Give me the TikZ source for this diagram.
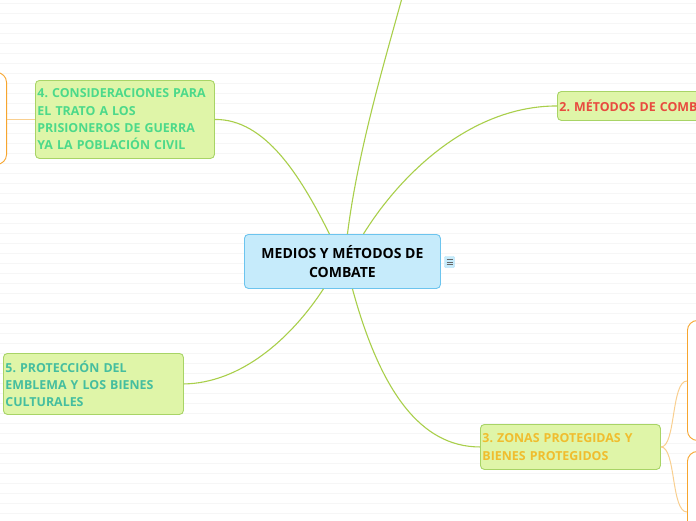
\documentclass[tikz,border=0pt]{standalone}
\usepackage{fontspec}
\setmainfont{Open Sans}
\frenchspacing
\definecolor{gfill}{HTML}{DFF5A8}
\definecolor{gborder}{HTML}{A8D466}
\definecolor{bfill}{HTML}{C6EBFB}
\definecolor{bborder}{HTML}{6CC4EE}
\definecolor{gline}{HTML}{A9CF4A}
\definecolor{oborder}{HTML}{F7A52E}
\definecolor{oline}{HTML}{F9CF8F}
\definecolor{tgreen}{HTML}{4CD98A}
\definecolor{tteal}{HTML}{45BE9F}
\definecolor{tyellow}{HTML}{F0BD2E}
\definecolor{tred}{HTML}{E84A3F}
\definecolor{stripe}{HTML}{F6F6F6}
\tikzset{
  topic/.style={draw=gborder, fill=gfill, line width=0.9pt, rounded corners=4pt,
    anchor=north west, inner xsep=2pt, inner ysep=0pt, align=left,
    font=\bfseries\fontsize{12.4}{17.3}\selectfont},
  central/.style={draw=bborder, fill=bfill, line width=0.9pt, rounded corners=4pt,
    anchor=north west, inner sep=0pt, align=center, text=black,
    minimum width=196pt, minimum height=54pt,
    font=\bfseries\fontsize{14}{19}\selectfont},
  obox/.style={draw=oborder, line width=0.9pt, rounded corners=10pt, fill=white},
  conn/.style={draw=gline, line width=1.1pt},
  oconn/.style={draw=oline, line width=1pt},
}
\begin{document}
\begin{tikzpicture}[x=1pt,y=-1pt]
\useasboundingbox (0,0) rectangle (696,520);
\clip (0,0) rectangle (696,520);
\fill[white] (0,0) rectangle (696,520);
\foreach \k in {0,...,51} {\draw[stripe, line width=1pt] (0,3.5+10*\k) -- (696,3.5+10*\k);}

% orange boxes (partly off the page)
\node[obox, minimum width=80pt, minimum height=92pt, anchor=north east] (oleft) at (7,72) {};
\node[obox, minimum width=60pt, minimum height=120pt, anchor=north west] (orightA) at (687,320) {};
\node[obox, minimum width=60pt, minimum height=120pt, anchor=north west] (orightB) at (687,451) {};

% central
\node[central] (c) at (244,234) {MEDIOS Y MÉTODOS DE\\COMBATE};

% topics
\node[topic, text=tgreen, text width=175pt, minimum height=78pt] (t4) at (35,80)
  {4. CONSIDERACIONES PARA\\EL TRATO A LOS\\PRISIONEROS DE GUERRA\\YA LA POBLACIÓN CIVIL};
\node[topic, text=tred, text width=200pt, minimum height=29pt] (t2) at (557,91)
  {2. MÉTODOS DE COMBATE};
\node[topic, text=tteal, text width=176pt, minimum height=61pt] (t5) at (3,353)
  {5. PROTECCIÓN DEL\\EMBLEMA Y LOS BIENES\\CULTURALES};
\node[topic, text=tyellow, text width=176pt, minimum height=45pt] (t3) at (480,424)
  {3. ZONAS PROTEGIDAS Y\\BIENES PROTEGIDOS};

% notes icon
\node[draw=bfill!70!bborder, fill=bfill, rounded corners=1pt, minimum width=10pt,
  minimum height=11pt, inner sep=0pt] (icon) at (449.5,262) {};
\foreach \dy in {-2.2,0,2.2} {\draw[gray!80!black, line width=0.7pt]
  ([xshift=-3pt,yshift=\dy pt]icon.center) -- ([xshift=3pt,yshift=\dy pt]icon.center);}

% connectors
\coordinate (topend) at (402,-2);
\draw[conn] ([xshift=5pt]c.north) .. controls (358,150) and (385,60) .. (topend);
\draw[conn] ([xshift=21pt]c.north) .. controls (400,175) and (470,106) .. (t2.west);
\draw[conn] ([xshift=-13pt]c.north) .. controls (300,175) and (265,119) .. (t4.east);
\draw[conn] ([xshift=-19pt]c.south) .. controls (290,340) and (240,383) .. (t5.east);
\draw[conn] ([xshift=10pt]c.south) .. controls (380,390) and (420,447) .. (t3.west);

\draw[oconn] (t4.west) -- (oleft.east |- t4.west);
\coordinate (oa) at (687,381);
\coordinate (ob) at (687,512);
\draw[oconn] (t3.east) .. controls (676,447) and (671,381) .. (oa);
\draw[oconn] (t3.east) .. controls (676,447) and (671,512) .. (ob);
\end{tikzpicture}
\end{document}
